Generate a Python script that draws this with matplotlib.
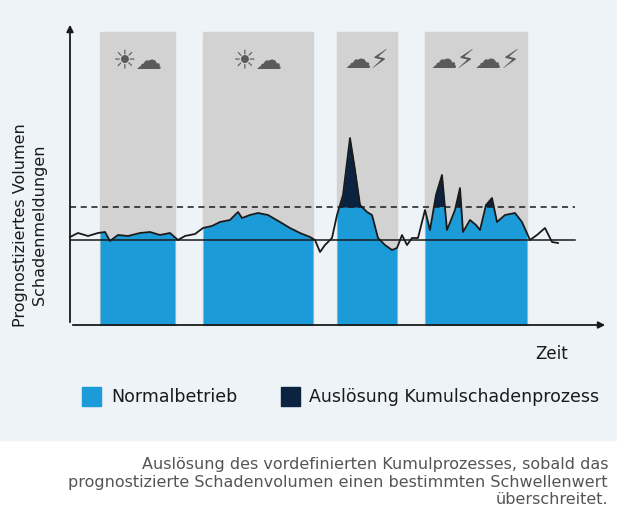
import matplotlib.pyplot as plt
import numpy as np

# Kurve (Pixel-Koordinaten aus dem Bild, y nach unten)
kurve_x = [70, 78, 88, 98, 105, 110, 118, 128, 140, 150, 160, 170, 178, 185, 195, 203, 212, 220, 230, 238,
           242, 250, 258, 268, 280, 290, 300, 310, 315, 320, 325, 332, 337, 343, 350, 355, 360, 367, 372, 378,
           385, 392, 397, 402, 407, 412, 418, 425, 430, 436, 442, 447, 455, 460, 463, 470, 476, 480, 486, 492,
           497, 505, 515, 522, 530, 537, 545, 552, 558]
kurve_y = [237, 233, 236, 233, 232, 241, 235, 236, 233, 232, 235, 233, 240, 236, 234, 228, 226, 222, 220, 212,
           218, 215, 213, 215, 222, 228, 233, 237, 240, 252, 245, 238, 215, 195, 138, 170, 205, 212, 215, 238,
           245, 250, 248, 235, 245, 238, 238, 210, 230, 195, 175, 230, 210, 188, 232, 220, 225, 230, 205, 198,
           222, 215, 213, 222, 240, 235, 228, 242, 243]
baender = [(100, 175), (203, 313), (337, 397), (425, 527)]
icons = ["☀☁", "☀☁", "☁⚡", "☁⚡☁⚡"]
basis = 240
schwelle = 207
achse_y = 325

blau = "#1b9bd7"
navy = "#0b2340"

fig = plt.figure(figsize=(6.17, 5.32), dpi=100)
ax = fig.add_axes([0, 0, 1, 1])
ax.set_xlim(0, 617)
ax.set_ylim(532, 0)
ax.axis("off")

ax.add_patch(plt.Rectangle((0, 0), 617, 440, color="#eef3f8", zorder=0))

xs = np.linspace(70, 558, 3000)
ys = np.interp(xs, kurve_x, kurve_y)
for (a, b), ic in zip(baender, icons):
    ax.add_patch(plt.Rectangle((a, 32), b - a, achse_y - 32, color="#d2d2d2", zorder=1))
    m = (xs >= a) & (xs <= b)
    ax.fill_between(xs[m], ys[m], achse_y, color=blau, zorder=2, lw=0)
    ax.fill_between(xs[m], ys[m], schwelle, where=ys[m] < schwelle, interpolate=True,
                    color=navy, zorder=3, lw=0)
    ax.text((a + b) / 2, 62, ic, ha="center", va="center", fontsize=19, color="#5a5a5a", zorder=4)

ax.plot(kurve_x, kurve_y, color="#1a1a1a", lw=1.3, zorder=5)
ax.plot([70, 575], [basis, basis], color="#1a1a1a", lw=1.1, zorder=4)
ax.plot([70, 575], [schwelle, schwelle], color="#1a1a1a", lw=1.1, ls=(0, (4, 3)), zorder=4)

ax.annotate("", xy=(70, 22), xytext=(70, achse_y), arrowprops=dict(arrowstyle="-|>", color="#1a1a1a", lw=1.3))
ax.annotate("", xy=(608, achse_y), xytext=(70, achse_y), arrowprops=dict(arrowstyle="-|>", color="#1a1a1a", lw=1.3))

ax.text(30, 225, "Prognostiziertes Volumen\nSchadenmeldungen", rotation=90, ha="center", va="center",
        fontsize=11.5, color="#1a1a1a", linespacing=1.3)
ax.text(552, 354, "Zeit", ha="center", va="center", fontsize=12, color="#1a1a1a")

ax.add_patch(plt.Rectangle((82, 387), 19, 19, color=blau))
ax.text(111, 397, "Normalbetrieb", va="center", fontsize=12.5, color="#1a1a1a")
ax.add_patch(plt.Rectangle((281, 387), 19, 19, color=navy))
ax.text(309, 397, "Auslösung Kumulschadenprozess", va="center", fontsize=12.5, color="#1a1a1a")

ax.text(608, 482, "Auslösung des vordefinierten Kumulprozesses, sobald das\n"
        "prognostizierte Schadenvolumen einen bestimmten Schwellenwert\nüberschreitet.",
        ha="right", va="center", fontsize=11.5, color="#555555", linespacing=1.2)

fig.savefig("out.png", dpi=100)
